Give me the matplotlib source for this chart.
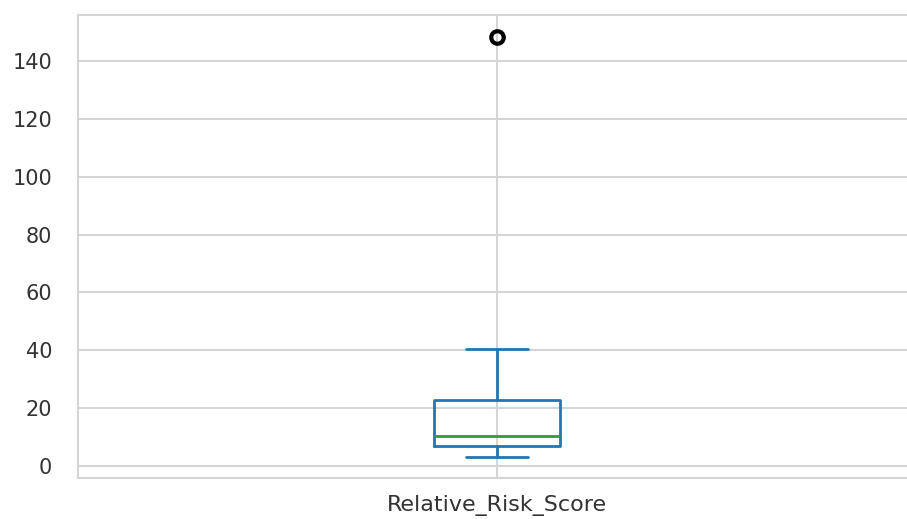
import matplotlib
matplotlib.use("Agg")
import matplotlib.pyplot as plt
import seaborn as sns

sns.set_style("whitegrid")
plt.rcParams['font.family'] = ['DejaVu Sans']

# box statistics
label = "Relative_Risk_Score"
whisker_low = 3.1
q1 = 6.9
median = 10.3
q3 = 22.8
whisker_high = 40.5
outliers = [148.5]

stats = [{
    "label": label,
    "whislo": whisker_low,
    "q1": q1,
    "med": median,
    "q3": q3,
    "whishi": whisker_high,
    "fliers": outliers,
}]

fig = plt.figure(figsize=(9.07, 5.19), dpi=100)
ax = fig.add_axes([0.086, 0.079, 0.924, 0.892])

ax.bxp(stats, widths=0.15,
       boxprops=dict(color="#1f77b4", linewidth=2),
       whiskerprops=dict(color="#1f77b4", linewidth=2),
       capprops=dict(color="#1f77b4", linewidth=2),
       medianprops=dict(color="#2ca02c", linewidth=2),
       flierprops=dict(marker="o", markerfacecolor="none",
                       markeredgecolor="black", markersize=9,
                       markeredgewidth=3))

ax.set_xlim(0.5, 1.5)
ax.set_ylim(-4.2, 156)
ax.set_yticks([0, 20, 40, 60, 80, 100, 120, 140])
ax.tick_params(axis="y", labelsize=15, colors="#333333", pad=15)
ax.tick_params(axis="x", labelsize=16, colors="#333333", pad=9)
ax.grid(True, color="#d5d5d5", linewidth=1.5)
for s in ax.spines.values():
    s.set_color("#d5d5d5")
    s.set_linewidth(1.5)

fig.savefig("out.png", dpi=100)
